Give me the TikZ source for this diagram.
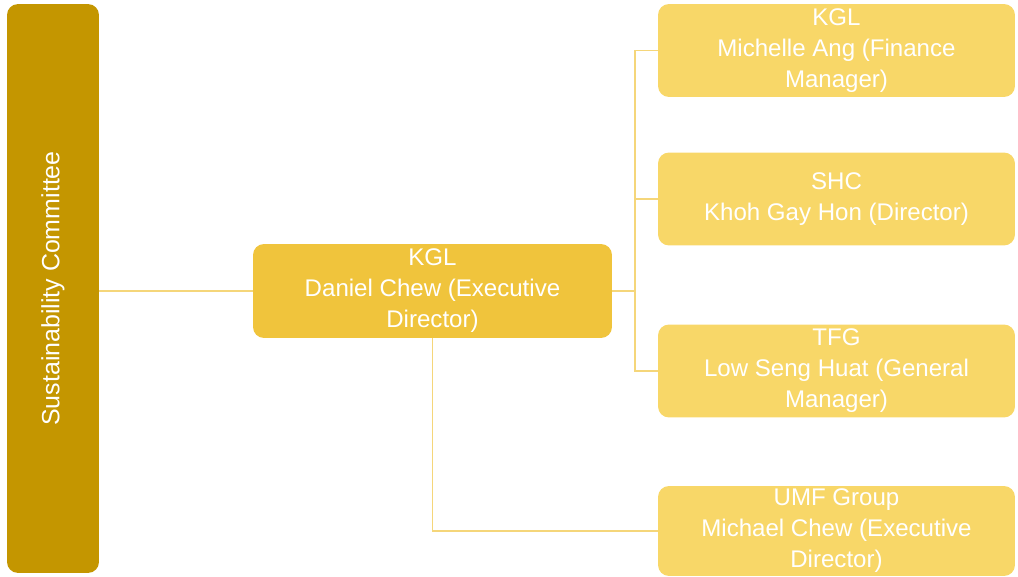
\documentclass[tikz,border=0pt]{standalone}
\usepackage{fontspec}
\setmainfont{Liberation Sans}
\usepackage{tikz}
\usetikzlibrary{positioning}
\usepackage{xcolor}

\definecolor{barGold}{HTML}{C49600}
\definecolor{headGold}{HTML}{F0C43C}
\definecolor{leafGold}{HTML}{F8D768}
\definecolor{linkGold}{HTML}{F5D67A}

\tikzset{
  gbox/.style={rounded corners=0.22cm, text=white, align=center, inner sep=0pt,
    font=\fontsize{13.7}{17.6}\selectfont},
  leaf/.style={gbox, fill=leafGold, minimum width=7.14cm, minimum height=1.86cm},
  link/.style={linkGold, line width=1.1pt}
}

\begin{document}
\begin{tikzpicture}[x=0.02cm, y=-0.02cm]

\useasboundingbox (0,0) rectangle (1018,577);

% nodes
{
\node[gbox, fill=barGold, rotate=90, minimum width=11.38cm, minimum height=1.84cm,
  font=\fontsize{14.2}{17.6}\selectfont] (committee) at (53,288.5) {Sustainability Committee};

\node[gbox, fill=headGold, minimum width=7.18cm, minimum height=1.88cm] (daniel) at (432.5,291) {KGL\\Daniel Chew (Executive\\Director)};

\node[leaf] (michelle) at (836.5,50.5) {KGL\\Michelle Ang (Finance\\Manager)};
\node[leaf] (khoh) at (836.5,199) {SHC\\Khoh Gay Hon (Director)};
\node[leaf] (low) at (836.5,371) {TFG\\Low Seng Huat (General\\Manager)};
\node[leaf, minimum height=1.8cm] (michael) at (836.5,531) {UMF Group\\Michael Chew (Executive\\Director)};
}

% links
\coordinate (bus) at (635,291);
\draw[link] (committee.south |- daniel.west) -- (daniel.west);
\draw[link] (daniel.east) -- (bus);
\foreach \n in {michelle,khoh,low}
  \draw[link] (bus) |- (\n.west);
\draw[link] (daniel.south) |- (michael.west);

\end{tikzpicture}
\end{document}
